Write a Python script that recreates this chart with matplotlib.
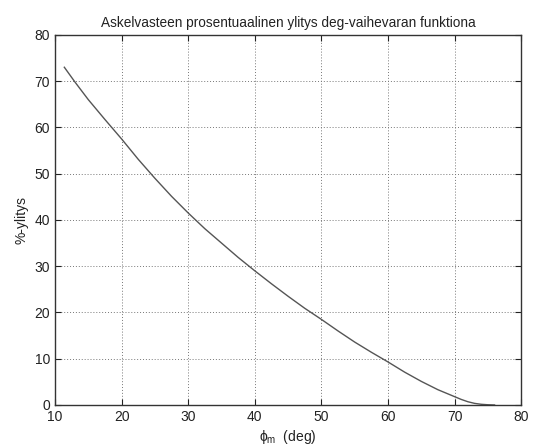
import numpy as np
import matplotlib.pyplot as plt

plt.rcParams['font.family'] = ['Liberation Sans', 'DejaVu Sans']
plt.rcParams['mathtext.fontset'] = 'custom'
plt.rcParams['mathtext.rm'] = 'Liberation Sans'
plt.rcParams['mathtext.it'] = 'Liberation Sans'

# phase margin (deg) vs percent overshoot
phase_margin = [11.4, 13.0, 15.0, 17.5, 20.0, 22.5, 25.0, 27.5, 30.0, 32.5, 35.0, 37.5,
                40.0, 42.5, 45.0, 47.5, 50.0, 52.5, 55.0, 57.5, 60.0, 62.5, 65.0,
                67.5, 70.0, 71.0, 72.0, 73.0, 74.0, 75.0, 76.0]
overshoot = [73.0, 69.8, 66.0, 61.7, 57.5, 53.1, 49.0, 45.1, 41.5, 38.1, 35.0, 31.9,
             29.0, 26.2, 23.5, 20.9, 18.5, 16.0, 13.6, 11.4, 9.3, 7.1, 5.1,
             3.3, 1.8, 1.2, 0.7, 0.35, 0.15, 0.05, 0.0]

xticks = [10, 20, 30, 40, 50, 60, 70, 80]
yticks = [0, 10, 20, 30, 40, 50, 60, 70, 80]

fig = plt.figure(figsize=(5.34, 4.47), dpi=100)
ax = fig.add_axes([0.103, 0.094, 0.873, 0.828])
ax.plot(phase_margin, overshoot, color='#555555', lw=1.0)
ax.set_xlim(10, 80)
ax.set_ylim(0, 80)
ax.set_xticks(xticks)
ax.set_yticks(yticks)
ax.grid(True, linestyle=(0, (1, 2)), color='#777777', lw=0.7)
ax.tick_params(direction='in', length=4, top=True, right=True, labelsize=10, colors='#222222')
for s in ax.spines.values():
    s.set_color('#333333')
    s.set_linewidth(1.0)
ax.set_title('Askelvasteen prosentuaalinen ylitys deg-vaihevaran funktiona',
             fontsize=9.8, color='#222222', pad=6)
ax.set_xlabel(r'$\phi_{\rm m}$  (deg)', fontsize=10, color='#222222', labelpad=3)
ax.set_ylabel('%-ylitys', fontsize=10, color='#222222', labelpad=4)

fig.savefig('out.png', dpi=100)
